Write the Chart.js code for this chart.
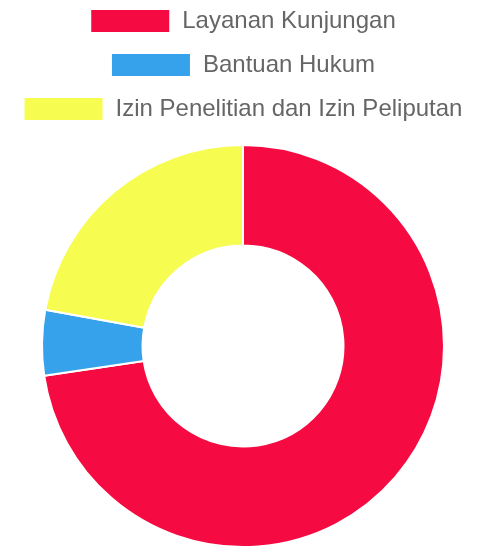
<!DOCTYPE html>
<html>
<head>
<meta charset="utf-8">
<script src="https://cdn.jsdelivr.net/npm/chart.js@4"></script>
<style>
  html, body { margin: 0; padding: 0; background: #fff; overflow: hidden; }
  #wrap { width: 486px; height: 559px; position: absolute; left: 0; top: -11px; }
</style>
</head>
<body>
<div id="wrap"><canvas id="myChart"></canvas></div>
<script>
// data
const labels = ['Layanan Kunjungan', 'Bantuan Hukum', 'Izin Penelitian dan Izin Peliputan'];
const values = [69, 5, 21];
const colors = ['#f50b41', '#36a2eb', '#f6fd50'];

// push the doughnut down a bit below the legend
const legendSpacer = {
  id: 'legendSpacer',
  beforeInit(chart) {
    const origFit = chart.legend.fit;
    chart.legend.fit = function() {
      origFit.bind(chart.legend)();
      this.height += 13;
    };
  }
};

const ctx = document.getElementById('myChart').getContext('2d');
const chart = new Chart(ctx, {
  type: 'doughnut',
  data: {
    labels: labels,
    datasets: [{
      data: values,
      backgroundColor: colors,
      borderColor: '#ffffff',
      borderWidth: 2
    }]
  },
  options: {
    responsive: true,
    maintainAspectRatio: false,
    animation: false,
    cutout: '50%',
    plugins: {
      legend: {
        position: 'top',
        labels: {
          boxWidth: 80,
          boxHeight: 24,
          padding: 20,
          color: '#666',
          font: { family: 'Liberation Sans, Arial, sans-serif', size: 24 }
        }
      },
      tooltip: { enabled: false }
    }
  },
  plugins: [legendSpacer]
});
</script>
</body>
</html>
